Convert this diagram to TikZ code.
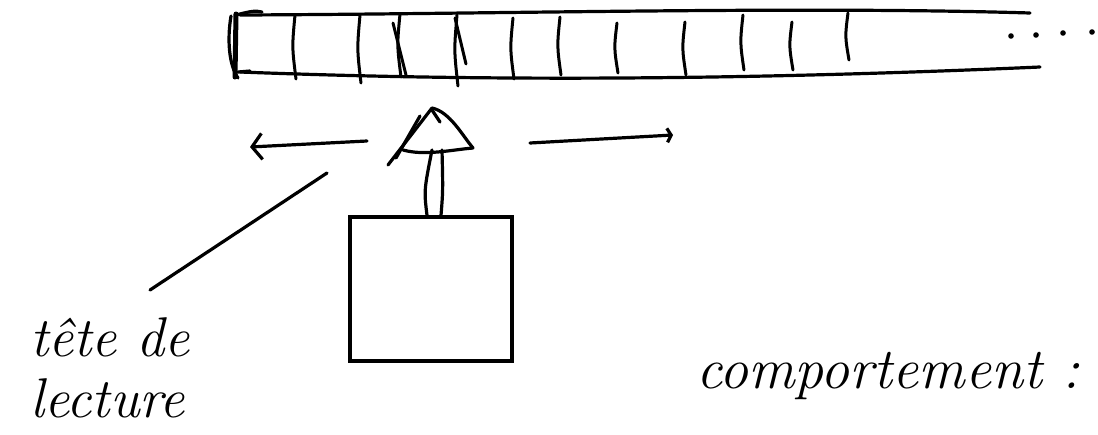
\documentclass[tikz,border=0pt]{standalone}
\usetikzlibrary{arrows.meta}
\begin{document}
\begin{tikzpicture}[x=1pt,y=-1pt,
  ink/.style={line width=3.2pt, line cap=round, line join=round},
  cellline/.style={line width=3pt, line cap=round},
  handtext/.style={font=\fontsize{56}{60}\selectfont\itshape, inner sep=0pt, anchor=base west},
  boxnode/.style={draw, line width=3.2pt, minimum width=162pt, minimum height=144pt, inner sep=0pt}]
\useasboundingbox (0,0) rectangle (1098,434);
% tape
\draw[ink] (240,15) .. controls (500,14) and (800,6) .. (1030,13);
\draw[ink] (240,72) .. controls (450,80) and (700,82) .. (1040,67);
\draw[ink, line width=5pt] (236,14) -- (235,77);
\draw[ink] (231,16) .. controls (227,40) and (229,65) .. (238,78);
\draw[ink] (236,15) .. controls (248,12) and (255,10) .. (262,12);
\draw[ink] (238,72) -- (250,71);
\foreach \x/\a/\b in {295/15/79, 360/15/83, 400/14/77, 457/15/86, 513/18/79, 560/17/75, 617/23/73, 685/22/75, 743/15/70, 792/22/70, 848/13/60}
  \draw[cellline] (\x,\a) .. controls (\x-3,{(\a+\b)/2}) .. (\x+1,\b);
\draw[cellline] (393,23) -- (406,75);
\draw[cellline] (455,18) -- (466,64);
\foreach \x/\y in {1011/36, 1036/35, 1063/33, 1092/32}
  \fill (\x,\y) circle (2.8pt);
% head
\coordinate (head) at (432,150);
\draw[ink] (388,165) -- (432,108) .. controls (450,112) and (462,135) .. (473,148);
\draw[ink] (396,158) -- (420,116);
\draw[ink] (432,110) -- (440,122);
\draw[ink] (403,150) .. controls (425,156) and (450,150) .. (473,148);
% left / right arrows
\coordinate (lfrom) at (367,141);
\coordinate (lto) at (250,147);
\draw[ink, -{Straight Barb[length=10pt, width=26pt, line width=3.2pt]}] (lfrom) -- (lto);
\coordinate (rfrom) at (530,143);
\coordinate (rto) at (673,135);
\draw[ink, -{Straight Barb[length=4pt, width=14pt, line width=3.2pt]}] (rfrom) -- (rto);
% control box
\node[boxnode] (box) at (431,289) {};
\draw[ink] ([xshift=-4pt]box.north) .. controls +(-3,-25) .. ([xshift=0pt]head.south);
\draw[ink] ([xshift=10pt]box.north) .. controls +(2,-25) .. ([xshift=10pt]head.south);
% labels
\node[handtext] (tete) at (30,356) {tête de};
\node[handtext] (lecture) at (30,417) {lecture};
\coordinate (ptrstart) at (327,173);
\coordinate (ptrend) at (150,290);
\draw[ink] (ptrstart) -- (ptrend);
\node[handtext, font=\fontsize{58}{62}\selectfont\itshape] (comp) at (696,388) {comportement :};
\end{tikzpicture}
\end{document}
